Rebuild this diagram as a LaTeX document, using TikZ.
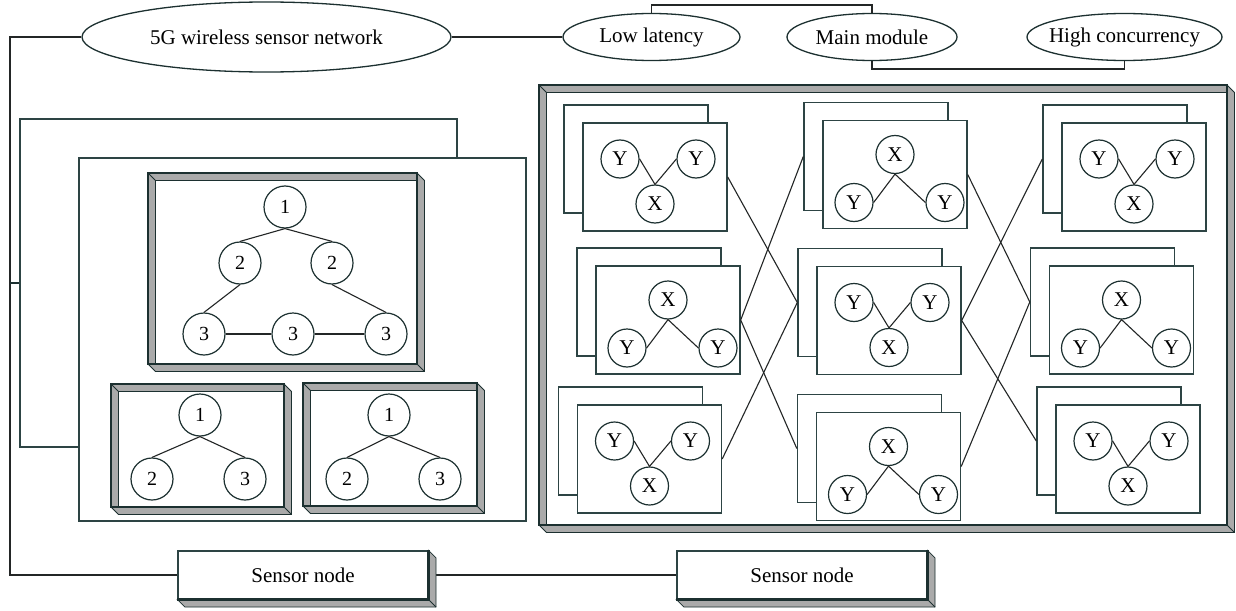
\documentclass[tikz,border=0pt]{standalone}
\usepackage{fontspec}
\setmainfont{Liberation Serif}
\usetikzlibrary{shapes.geometric,calc}
\definecolor{dk}{RGB}{28,48,48}
\definecolor{ln}{RGB}{45,68,68}
\definecolor{cn}{RGB}{35,38,38}
\definecolor{bev}{RGB}{170,170,170}
\newcommand{\bvt}{7.5}
\newcommand{\bevelframe}[4]{%
  \filldraw[fill=bev,draw=dk,line width=0.8] (#1,#2) -- (#3,#2) -- (#3,#2+\bvt) -- (#1+\bvt,#2+\bvt) -- (#1+\bvt,#4) -- (#1,#4) -- cycle;
  \draw[dk,line width=0.8] (#1,#2) -- (#1+\bvt,#2+\bvt);
  \filldraw[fill=bev,draw=dk,line width=0.8] (#3,#2) -- (#3+\bvt,#2+\bvt) -- (#3+\bvt,#4+\bvt) -- (#1+\bvt,#4+\bvt) -- (#1,#4) -- (#3,#4) -- cycle;
  \draw[dk,line width=0.8] (#3,#4) -- (#3+\bvt,#4+\bvt);
  \draw[dk,line width=2.4] (#1,#2) rectangle (#3,#4);
}
\newcommand{\extrude}[1]{%
  \filldraw[fill=bev,draw=dk,line width=0.8] (#1.north east) -- ++(\bvt,\bvt) -- ($(#1.south east)+(\bvt,\bvt)$) -- ($(#1.south west)+(\bvt,\bvt)$) -- (#1.south west) -- (#1.south east) -- cycle;
  \draw[dk,line width=0.8] (#1.south east) -- ++(\bvt,\bvt);
  \draw[dk,line width=2.2] (#1.north east) -- (#1.south east) -- (#1.south west);
}
% card with Y Y on top and X below
\newcommand{\cardV}[3]{%
  \node[card] (b#1) at (#2-19,#3-18) {};
  \node[card] (f#1) at (#2,#3) {};
  \node[nd] (#1ya) at (#2-35,#3-18) {Y};
  \node[nd] (#1yb) at (#2+41,#3-18) {Y};
  \node[nd] (#1x) at (#2,#3+27) {X};
  \draw[cn,line width=1.1] (#1ya.east) -- (#1x.north) -- (#1yb.west);
}
% card with X on top and Y Y below
\newcommand{\cardL}[3]{%
  \node[card] (b#1) at (#2-19,#3-18) {};
  \node[card] (f#1) at (#2,#3) {};
  \node[nd] (#1x) at (#2,#3-20) {X};
  \node[nd] (#1ya) at (#2-41,#3+28) {Y};
  \node[nd] (#1yb) at (#2+50,#3+28) {Y};
  \draw[cn,line width=1.1] (#1ya.east) -- (#1x.south) -- (#1yb.west);
}
\begin{document}
\begin{tikzpicture}[x=1pt,y=-1pt,
  conn/.style={draw=cn,line width=1.2},
  ell/.style={ellipse,draw=dk,line width=1.3,fill=white,inner sep=0pt,font=\fontsize{21}{25}\selectfont},
  sensor/.style={draw=ln,line width=1.1,fill=white,minimum width=250pt,minimum height=48pt,inner sep=0pt,font=\fontsize{21}{25}\selectfont},
  panel/.style={draw=ln,line width=1.2,fill=white,inner sep=0pt},
  card/.style={draw=ln,line width=1.4,fill=white,minimum width=144pt,minimum height=108pt,inner sep=0pt},
  nd/.style={circle,draw=dk,line width=1.2,fill=white,minimum size=38pt,inner sep=0pt,font=\fontsize{21}{21}\selectfont},
  tn/.style={circle,draw=dk,line width=1.2,fill=white,minimum size=42pt,inner sep=0pt,font=\fontsize{20}{20}\selectfont}]
\fill[white] (0,0) rectangle (1236,610);
\useasboundingbox (0,0) rectangle (1236,610);

% ---------- top row ----------
\node[ell,minimum width=369pt,minimum height=70pt] (e5g) at (266.5,37) {\makebox[0pt]{5G wireless sensor network}};
\node[ell,minimum width=177pt,minimum height=47pt] (ell) at (651.5,37) {\makebox[0pt]{Low latency}};
\node[ell,minimum width=170pt,minimum height=47pt] (emm) at (872,37) {\makebox[0pt]{Main module}};
\node[ell,minimum width=195pt,minimum height=47pt] (ehc) at (1124.5,37) {\makebox[0pt]{High concurrency}};
\coordinate (btop) at (760,5);
\coordinate (bbot) at (1000,69);
\draw[conn] (e5g.east) -- (ell.west);
\draw[conn] (ell.north) |- (btop) -| (emm.north);
\draw[conn] (emm.south) |- (bbot) -| (ehc.south);

% ---------- left part ----------
\node[panel,minimum width=437pt,minimum height=328pt] (pA) at (238.5,283) {};
\node[panel,minimum width=447pt,minimum height=363pt] (pB) at (302.5,339.5) {};

\bevelframe{148}{173}{417}{364}
\node[tn] (t1) at (285,207) {1};
\node[tn] (t2a) at (240,263) {2};
\node[tn] (t2b) at (332,263) {2};
\node[tn] (t3a) at (204,334) {3};
\node[tn] (t3b) at (293,334) {3};
\node[tn] (t3c) at (386,334) {3};
\draw[cn,line width=1.1] (t1.south) -- (t2a.north);
\draw[cn,line width=1.1] (t1.south) -- (t2b.north);
\draw[cn,line width=1.1] (t2a.south) -- (t3a.north);
\draw[cn,line width=1.1] (t2b.south) -- (t3c.north);
\draw[cn,line width=1.1] (t3a.east) -- (t3b.west);
\draw[cn,line width=1.1] (t3b.east) -- (t3c.west);

\bevelframe{111}{384}{284}{507}
\node[tn] (u1) at (200,415) {1};
\node[tn] (u2) at (152,479) {2};
\node[tn] (u3) at (245,479) {3};
\draw[cn,line width=1.1] (u1.south) -- (u2.north);
\draw[cn,line width=1.1] (u1.south) -- (u3.north);

\bevelframe{303}{383}{477}{506}
\node[tn] (v1) at (389,415) {1};
\node[tn] (v2) at (347,479) {2};
\node[tn] (v3) at (440,479) {3};
\draw[cn,line width=1.1] (v1.south) -- (v2.north);
\draw[cn,line width=1.1] (v1.south) -- (v3.north);

% ---------- right main block ----------
\bevelframe{539}{85}{1227}{525}
\cardV{c11}{655}{177}
\cardL{c21}{668}{320}
\cardV{c31}{649.5}{459}
\cardL{c12}{895}{174.5}
\cardV{c22}{889}{320.5}
\cardL{c32}{888.5}{466.5}
\cardV{c13}{1134}{177}
\cardL{c23}{1121.5}{320}
\cardV{c33}{1128}{459}
\draw[cn,line width=1.1] (fc11.east) -- (bc22.west) -- (fc31.east);
\draw[cn,line width=1.1] (bc12.west) -- (fc21.east) -- (bc32.west);
\draw[cn,line width=1.1] (fc12.east) -- (bc23.west) -- (fc32.east);
\draw[cn,line width=1.1] (bc13.west) -- (fc22.east) -- (bc33.west);

% ---------- sensor nodes and bus ----------
\node[sensor] (s1) at (303,575) {Sensor node};
\node[sensor] (s2) at (802,575) {Sensor node};
\coordinate (ltop) at (10,37);
\coordinate (lbot) at (10,575);
\coordinate (lmid) at (10,283);
\draw[conn] (e5g.west) -- (ltop) -- (lbot) -- (s1.west);
\draw[conn] (s1.east) -- (s2.west);
\draw[dk,line width=2.2] (lmid) -- (pA.west);
\extrude{s1}
\extrude{s2}
\end{tikzpicture}
\end{document}
